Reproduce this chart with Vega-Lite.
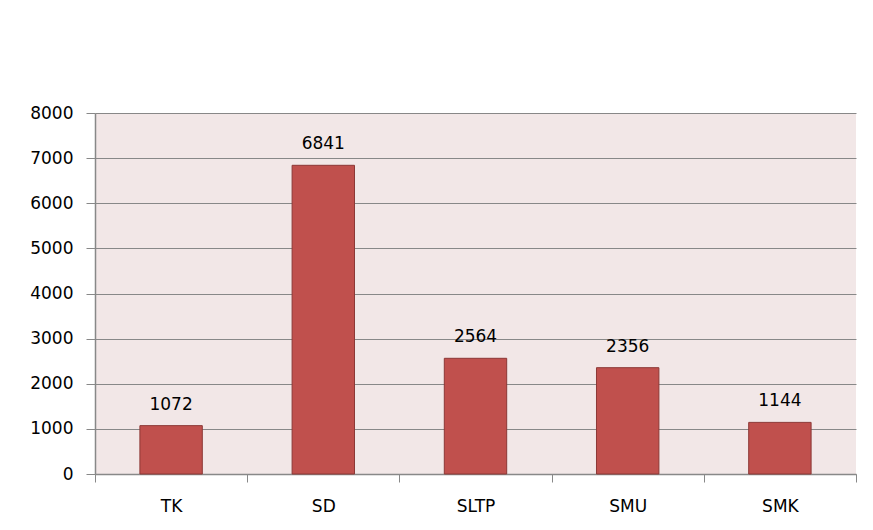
{
  "$schema": "https://vega.github.io/schema/vega-lite/v6.json",
  "width": 761,
  "height": 361,
  "autosize": {"type": "none"},
  "padding": {"left": 95, "top": 113, "right": 17, "bottom": 56},
  "background": "white",
  "config": {
    "view": {"fill": "#f2e7e7", "stroke": null},
    "font": "DejaVu Sans",
    "axis": {
      "labelFont": "DejaVu Sans",
      "labelFontSize": 17,
      "labelColor": "#000000",
      "domainColor": "#888888",
      "tickColor": "#888888",
      "gridColor": "#888888",
      "title": null
    }
  },
  "data": {
    "values": [
      {"level": "TK", "count": 1072},
      {"level": "SD", "count": 6841},
      {"level": "SLTP", "count": 2564},
      {"level": "SMU", "count": 2356},
      {"level": "SMK", "count": 1144}
    ]
  },
  "encoding": {
    "x": {
      "field": "level",
      "type": "nominal",
      "sort": null,
      "scale": {"paddingInner": 0, "paddingOuter": 0},
      "axis": {
        "labelAngle": 0,
        "tickBand": "extent",
        "tickSize": 8,
        "labelPadding": 16,
        "domainWidth": 1.5
      }
    },
    "y": {
      "field": "count",
      "type": "quantitative",
      "scale": {"domain": [0, 8000]},
      "axis": {
        "values": [0, 1000, 2000, 3000, 4000, 5000, 6000, 7000, 8000],
        "format": "d",
        "tickSize": 9,
        "labelPadding": 13,
        "gridWidth": 1,
        "domainWidth": 1.5
      }
    }
  },
  "layer": [
    {
      "mark": {"type": "bar", "color": "#c0504d", "stroke": "#8c3836", "strokeWidth": 1, "width": {"band": 0.41}}
    },
    {
      "mark": {"type": "text", "baseline": "bottom", "dy": -12, "fontSize": 17, "font": "DejaVu Sans", "color": "#000000"},
      "encoding": {"text": {"field": "count", "type": "quantitative", "format": "d"}}
    }
  ]
}
